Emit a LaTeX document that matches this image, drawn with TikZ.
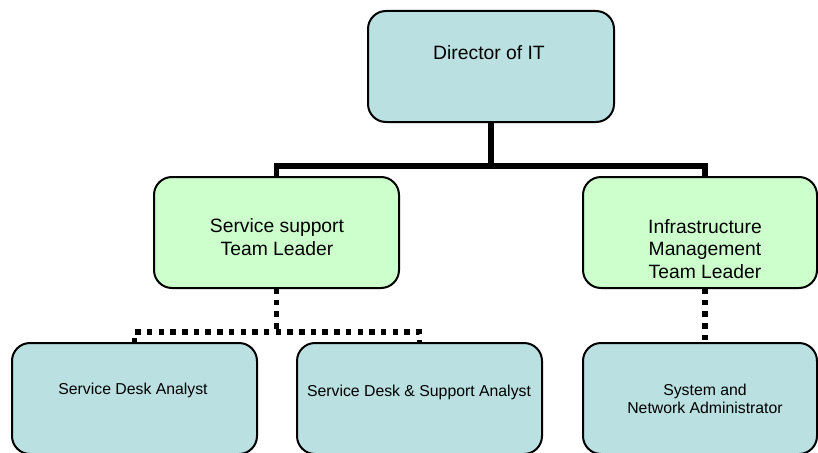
\documentclass[tikz,border=0pt]{standalone}
\usepackage{fontspec}
\setmainfont{Liberation Sans}
\definecolor{boxblue}{RGB}{186,224,226}
\definecolor{boxgreen}{RGB}{204,255,204}
\tikzset{
  x=1pt, y=-1pt,
  rolebox/.style={draw=black, line width=2pt, rounded corners=18pt,
    minimum height=111pt, inner sep=0pt, outer sep=0pt},
  bluebox/.style={rolebox, fill=boxblue},
  greenbox/.style={rolebox, fill=boxgreen},
  bigtext/.style={align=center, inner sep=0pt, text=black,
    font=\fontsize{19.3}{22.5}\selectfont},
  smalltext/.style={align=center, inner sep=0pt, text=black,
    font=\fontsize{15.8}{18}\selectfont},
  solidline/.style={draw=black, line width=5.7pt},
  dotline/.style={draw=black, line width=5.5pt, dash pattern=on 5.5pt off 6.2pt},
}
\begin{document}
\begin{tikzpicture}
\useasboundingbox (0,0) rectangle (818,452);

% boxes
\node[bluebox,  minimum width=246pt] (dir)  at (491,66.5) {};
\node[greenbox, minimum width=245pt] (ss)   at (276.5,232.5) {};
\node[greenbox, minimum width=234pt] (inf)  at (700,232.5) {};
\node[bluebox,  minimum width=245pt] (sda)  at (134.5,398.5) {};
\node[bluebox,  minimum width=245pt] (sdsa) at (419.5,398.5) {};
\node[bluebox,  minimum width=234pt] (sna)  at (700,398.5) {};

% labels
\node[bigtext] (tdir) at (489,53) {Director of IT};
\node[bigtext] (tss)  at (277,237) {Service support\\Team Leader};
\node[bigtext] (tinf) at (705,249) {Infrastructure\\Management\\Team Leader};
\node[smalltext] (tsda)  at (133,390) {Service Desk Analyst};
\node[smalltext] (tsdsa) at (419,392) {Service Desk \& Support Analyst};
\node[smalltext] (tsna)  at (705,399) {System and\\Network Administrator};

% solid reporting lines
\coordinate (tj) at (491,166);
\draw[solidline] (dir.south) -- (tj);
\draw[solidline] (ss.north) |- (tj) -| ([xshift=5pt]inf.north);

% dotted reporting lines
\coordinate (sj) at (276.5,332);
\draw[dotline] (ss.south) -- (sj);
\draw[dotline] (sda.north) |- (sj) -| (sdsa.north);
\draw[dotline] ([xshift=5pt]inf.south) -- ([xshift=5pt]sna.north);
\end{tikzpicture}
\end{document}
